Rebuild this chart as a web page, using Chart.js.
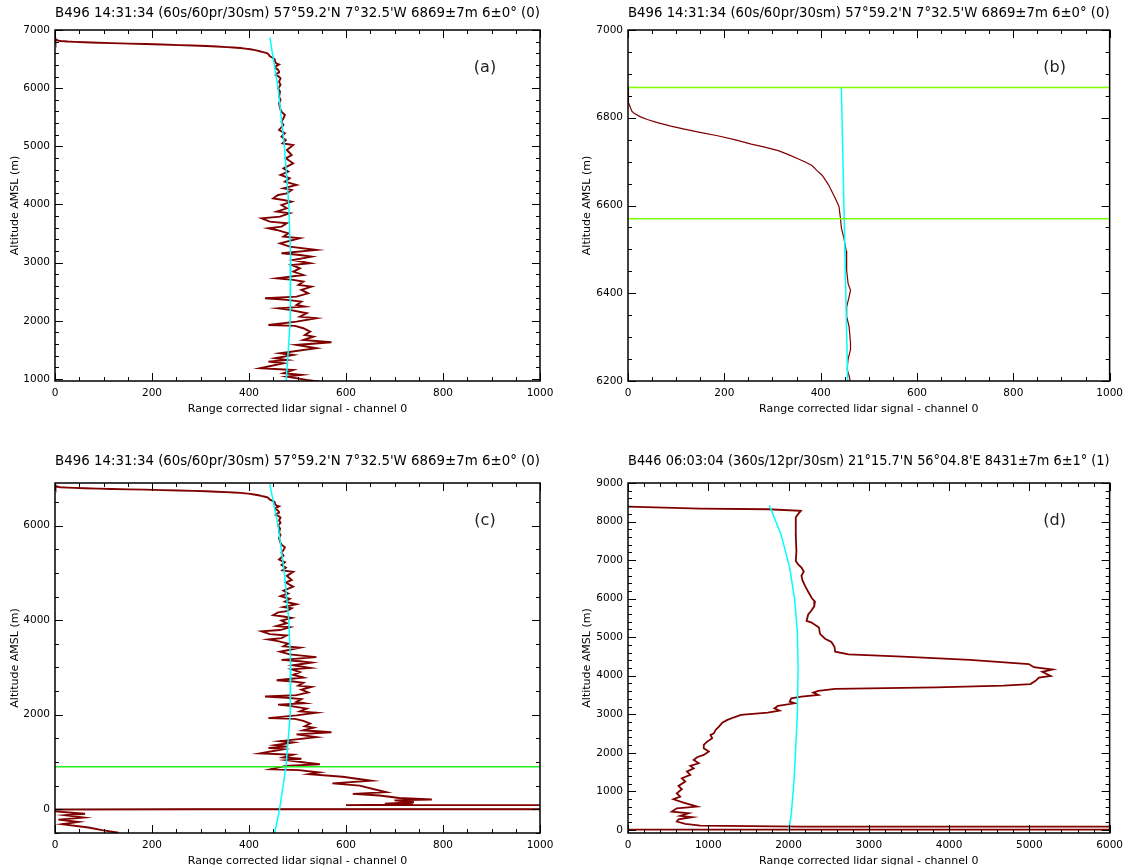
<!DOCTYPE html>
<html>
<head>
<meta charset="utf-8">
<title>Lidar profiles</title>
<script src="https://cdn.jsdelivr.net/npm/chart.js@4.4.1/dist/chart.umd.min.js"></script>
<style>
  html, body { margin: 0; padding: 0; background: #fff; overflow: hidden; }
  .panel { position: absolute; }
</style>
</head>
<body>
<canvas id="chart-a" class="panel" width="564" height="432" style="left:0;top:0"></canvas>
<canvas id="chart-b" class="panel" width="565" height="432" style="left:564px;top:0"></canvas>
<canvas id="chart-c" class="panel" width="564" height="445" style="left:0;top:432px"></canvas>
<canvas id="chart-d" class="panel" width="565" height="445" style="left:564px;top:432px"></canvas>
<script>
// Profile B496 - altitude (m) and range corrected signal
const b496Alt = [6872, 6834, 6815, 6811, 6802, 6796, 6789, 6781, 6774, 6766, 6759, 6750, 6740, 6733, 6725, 6716, 6706, 6699, 6691, 6680,
  6669, 6658, 6646, 6635, 6624, 6610, 6598, 6572, 6549, 6527, 6497, 6452,
  6422, 6407, 6392, 6369, 6347, 6324, 6287, 6272, 6250, 6227, 6208, 6169, 6112, 6055, 5997, 5940, 5854, 5797, 5739, 5653,
  5596, 5539, 5482, 5424, 5367, 5281, 5224, 5166, 5109, 5052, 5023, 4937, 4851, 4794, 4708, 4622, 4565, 4507, 4450, 4393,
  4336, 4278, 4250, 4192, 4164, 4106, 4078, 4049, 3992, 3934, 3877, 3849, 3791, 3763, 3705, 3677, 3619, 3591, 3562, 3505,
  3447, 3419, 3333, 3276, 3218, 3161, 3132, 3104, 3046, 2989, 2960, 2903, 2846, 2788, 2731, 2703, 2674, 2617, 2588, 2531,
  2473, 2416, 2387, 2359, 2330, 2273, 2244, 2215, 2187, 2130, 2072, 2044, 1986, 1929, 1912, 1872, 1814, 1757, 1728, 1671,
  1631, 1585, 1528, 1442, 1413, 1356, 1327, 1299, 1270, 1184, 1155, 1098, 1069, 1041, 984, 955, 919, 849, 829, 780,
  745, 689, 605, 550, 501, 362, 327, 292, 240, 209, 190, 150, 120, 104, 90, 63, 10, 2, -5, -43, -92,
  -126, -175, -217, -266, -314, -384, -440, -496];
const b496Sig = [0, 1, 8, 12, 26, 40, 61, 89, 117, 152, 186, 221, 256, 284, 312, 333, 354, 368, 382, 392,
  403, 410, 417, 422, 427, 433, 438, 441, 443, 448, 453, 454,
  457, 462, 459, 454, 454, 459, 462, 462, 457, 455, 460, 465, 462, 465, 460, 464, 462, 465, 462, 464,
  467, 474, 471, 467, 471, 462, 474, 467, 476, 469, 491, 478, 488, 476, 491, 471, 481, 465, 484, 474,
  498, 471, 488, 478, 460, 450, 471, 488, 467, 478, 457, 484, 464, 426, 443, 478, 467, 440, 457, 481,
  471, 505, 464, 484, 539, 467, 505, 529, 491, 526, 488, 505, 491, 512, 457, 491, 512, 502, 529, 508,
  522, 498, 433, 478, 508, 498, 515, 460, 484, 519, 505, 539, 498, 440, 495, 512, 526, 515, 533, 512,
  570, 498, 539, 464, 491, 454, 478, 440, 471, 423, 491, 471, 508, 478, 519, 546, 476, 445, 503, 545,
  524, 593, 652, 572, 628, 683, 614, 669, 710, 777, 700, 740, 680, 738, 600, 30000, 30000, 290, 0, 0, 62,
  21, 59, 7, 48, 14, 69, 97, 131];

// Profile B446
const b446Alt = [8386, 8336, 8319, 8277, 8193, 8109, 7647, 7227, 6975, 6891, 6807, 6706, 6597, 6471, 6345, 6177, 6009, 5925, 5799, 5673,
  5589, 5421, 5379, 5253, 5085, 4959, 4875, 4749, 4623, 4556, 4497, 4413, 4304, 4220, 4161, 4102, 3993, 3951, 3867, 3783,
  3741, 3699, 3657, 3605, 3562, 3501, 3458, 3415, 3328, 3285, 3216, 3155, 3095, 3043, 2983, 2922, 2853, 2784, 2680, 2594,
  2507, 2464, 2377, 2291, 2204, 2118, 2032, 1945, 1885, 1815, 1729, 1660, 1599, 1513, 1426, 1340, 1254, 1141, 1055, 951,
  865, 795, 709, 605, 562, 475, 432, 363, 329, 277, 216, 156, 112, 86, 70, 20, 5];
const b446Sig = [0, 902, 1741, 2153, 2119, 2090, 2090, 2098, 2090, 2119, 2161, 2190, 2161, 2174, 2203, 2245, 2291, 2329, 2320, 2278,
  2245, 2224, 2287, 2379, 2392, 2455, 2534, 2572, 2581, 2748, 3420, 4259, 4993, 5056, 5287, 5161, 5266, 5119, 5077, 5014,
  4679, 3839, 2581, 2371, 2308, 2371, 2161, 2035, 2014, 2077, 1867, 1825, 1888, 1741, 1406, 1322, 1238, 1175, 1133, 1091,
  1070, 1028, 1049, 986, 944, 944, 1007, 944, 860, 818, 881, 776, 818, 734, 776, 671, 713, 629, 671, 608,
  650, 566, 692, 860, 608, 545, 755, 650, 797, 629, 608, 713, 902, 2161, 40000, 40000, 0];

// Molecular (Rayleigh) reference curves
const mol496Alt = [6869, 6000, 5000, 4000, 3000, 2000, 1500, 1000, 900, 0, -500];
const mol496Sig = [443, 460, 473, 482, 486, 485, 481, 477, 476, 463, 453];
const mol446Alt = [8420, 7647, 6807, 5967, 5127, 4203, 3026, 2161, 1297, 432, 0];
const mol446Sig = [1762, 1909, 2014, 2077, 2110, 2119, 2110, 2090, 2069, 2035, 2005];

// Marker levels
const bLevels = [6869, 6570];
const cLevels = [900];
const cZero = [0];

// Tick labels
const ticks1000 = [0, 200, 400, 600, 800, 1000];
const ticks6000 = [0, 1000, 2000, 3000, 4000, 5000, 6000];
const aYTicks = [1000, 2000, 3000, 4000, 5000, 6000, 7000];
const bYTicks = [6200, 6400, 6600, 6800, 7000];
const cYTicks = [0, 2000, 4000, 6000];
const dYTicks = [0, 1000, 2000, 3000, 4000, 5000, 6000, 7000, 8000, 9000];

const TITLE_B496 = "B496 14:31:34 (60s/60pr/30sm) 57\u00b059.2'N 7\u00b032.5'W 6869\u00b17m 6\u00b10\u00b0 (0)";
const TITLE_B446 = "B446 06:03:04 (360s/12pr/30sm) 21\u00b015.7'N 56\u00b004.8'E 8431\u00b17m 6\u00b11\u00b0 (1)";
const X_TITLE = 'Range corrected lidar signal - channel 0';
const Y_TITLE = 'Altitude AMSL (m)';

const FONT = 'DejaVu Sans';
const BROWN = '#800000';
const CYAN = '#00ffff';

function series(sig, alt) {
  return sig.map((v, i) => ({ x: v, y: alt[i] }));
}

function hline(alt, x0, x1) {
  return [{ x: x0, y: alt }, { x: x1, y: alt }];
}

// box, inward ticks on all four sides, panel letter
const decorPlugin = {
  id: 'panelDecor',
  afterDatasetsDraw(chart, args, opts) {
    const { ctx, chartArea: { left, right, top, bottom }, scales: { x, y } } = chart;
    ctx.save();
    ctx.strokeStyle = '#000';
    ctx.lineWidth = 1;
    const seg = (x0, y0, x1, y1) => { ctx.beginPath(); ctx.moveTo(x0, y0); ctx.lineTo(x1, y1); ctx.stroke(); };

    const xMinor = [];
    for (let v = Math.ceil(x.min / opts.xStep) * opts.xStep; v <= x.max; v += opts.xStep) xMinor.push(v);
    const yMinor = [];
    for (let v = Math.ceil(y.min / opts.yStep) * opts.yStep; v <= y.max; v += opts.yStep) yMinor.push(v);

    xMinor.forEach(v => {
      const p = Math.round(x.getPixelForValue(v)) + 0.5;
      const len = opts.xMajor.includes(v) ? 8 : 4;
      seg(p, bottom, p, bottom - len);
      seg(p, top, p, top + len);
    });
    yMinor.forEach(v => {
      const p = Math.round(y.getPixelForValue(v)) + 0.5;
      const len = opts.yMajor.includes(v) ? 8 : 4;
      seg(left, p, left + len, p);
      seg(right, p, right - len, p);
    });

    ctx.lineWidth = 1.5;
    ctx.strokeRect(left, top, right - left, bottom - top);

    ctx.fillStyle = '#222';
    ctx.font = '16px ' + FONT;
    ctx.textAlign = 'center';
    ctx.textBaseline = 'middle';
    ctx.fillText(opts.letter, right - 55, top + 38);
    ctx.restore();
  }
};

function makePanel(id, cfg) {
  const ctx = document.getElementById(id).getContext('2d');
  const tickFont = { family: FONT, size: 10.5 };
  const titleFont = { family: FONT, size: 11 };
  return new Chart(ctx, {
    type: 'scatter',
    data: { datasets: cfg.datasets },
    options: {
      responsive: false,
      animation: false,
      events: [],
      layout: { padding: { left: 0, right: cfg.padRight, top: 0, bottom: 0 } },
      plugins: {
        legend: { display: false },
        tooltip: { enabled: false },
        title: {
          display: true,
          text: cfg.title,
          fullSize: false,
          color: '#000',
          font: { family: FONT, size: 13.5, weight: 'normal' },
          padding: { top: cfg.titleTop, bottom: cfg.titleBottom }
        },
        panelDecor: { letter: cfg.letter, xMajor: cfg.xTicks, yMajor: cfg.yTicks, xStep: cfg.xStep, yStep: cfg.yStep }
      },
      scales: {
        x: {
          type: 'linear',
          min: cfg.xMin,
          max: cfg.xMax,
          afterBuildTicks: s => { s.ticks = cfg.xTicks.map(v => ({ value: v })); },
          afterFit: s => { s.height = cfg.xHeight; },
          ticks: { callback: v => String(v), font: tickFont, color: '#000', padding: 6, maxRotation: 0, autoSkip: false },
          grid: { display: false, drawTicks: false },
          border: { display: false },
          title: { display: true, text: X_TITLE, color: '#000', font: titleFont, padding: { top: 0, bottom: cfg.xTitlePad } }
        },
        y: {
          type: 'linear',
          min: cfg.yMin,
          max: cfg.yMax,
          afterBuildTicks: s => { s.ticks = cfg.yTicks.map(v => ({ value: v })); },
          afterFit: s => { s.width = cfg.yWidth; },
          ticks: { callback: v => String(v), font: tickFont, color: '#000', padding: 5, autoSkip: false },
          grid: { display: false, drawTicks: false },
          border: { display: false },
          title: { display: true, text: Y_TITLE, color: '#000', font: titleFont, padding: { top: cfg.yTitlePad, bottom: 0 } }
        }
      }
    },
    plugins: [decorPlugin]
  });
}

const lineDs = (data, color, width) => ({
  data, borderColor: color, backgroundColor: color, borderWidth: width,
  showLine: true, pointRadius: 0, fill: false, tension: 0
});

// (a)
makePanel('chart-a', {
  title: TITLE_B496, letter: '(a)',
  xMin: 0, xMax: 1000, yMin: 965, yMax: 7000,
  xTicks: ticks1000, yTicks: aYTicks, xStep: 50, yStep: 200,
  padRight: 24, yWidth: 55, xHeight: 51,
  titleTop: 5, titleBottom: 8.8, yTitlePad: 8.4, xTitlePad: 16.4,
  datasets: [
    lineDs(series(mol496Sig, mol496Alt), CYAN, 1.5),
    lineDs(series(b496Sig, b496Alt), BROWN, 1.9)
  ]
});

// (b)
makePanel('chart-b', {
  title: TITLE_B496, letter: '(b)',
  xMin: 0, xMax: 1000, yMin: 6200, yMax: 7000,
  xTicks: ticks1000, yTicks: bYTicks, xStep: 50, yStep: 50,
  padRight: 16, yWidth: 64, xHeight: 51,
  titleTop: 5, titleBottom: 8.8, yTitlePad: 16.4, xTitlePad: 16.4,
  datasets: [
    ...bLevels.map(a => lineDs(hline(a, 0, 1000), '#80ff00', 1.5)),
    lineDs(series(mol496Sig, mol496Alt), CYAN, 1.5),
    lineDs(series(b496Sig, b496Alt), BROWN, 1.2)
  ]
});

// (c)
makePanel('chart-c', {
  title: TITLE_B496, letter: '(c)',
  xMin: 0, xMax: 1000, yMin: -500, yMax: 6900,
  xTicks: ticks1000, yTicks: cYTicks, xStep: 50, yStep: 500,
  padRight: 24, yWidth: 55, xHeight: 44,
  titleTop: 21, titleBottom: 13.8, yTitlePad: 8.4, xTitlePad: 9.4,
  datasets: [
    ...cLevels.map(a => lineDs(hline(a, 0, 1000), '#22ee22', 1.5)),
    lineDs(series(mol496Sig, mol496Alt), CYAN, 1.5),
    lineDs(series(b496Sig, b496Alt), BROWN, 1.9),
    ...cZero.map(a => lineDs(hline(a, 0, 1000), '#000', 1.3))
  ]
});

// (d)
makePanel('chart-d', {
  title: TITLE_B446, letter: '(d)',
  xMin: 0, xMax: 6000, yMin: -80, yMax: 9000,
  xTicks: ticks6000, yTicks: dYTicks, xStep: 200, yStep: 200,
  padRight: 16, yWidth: 64, xHeight: 44,
  titleTop: 21, titleBottom: 13.8, yTitlePad: 16.4, xTitlePad: 9.4,
  datasets: [
    lineDs(series(mol446Sig, mol446Alt), CYAN, 1.5),
    lineDs(series(b446Sig, b446Alt), BROWN, 1.8)
  ]
});
</script>
</body>
</html>
